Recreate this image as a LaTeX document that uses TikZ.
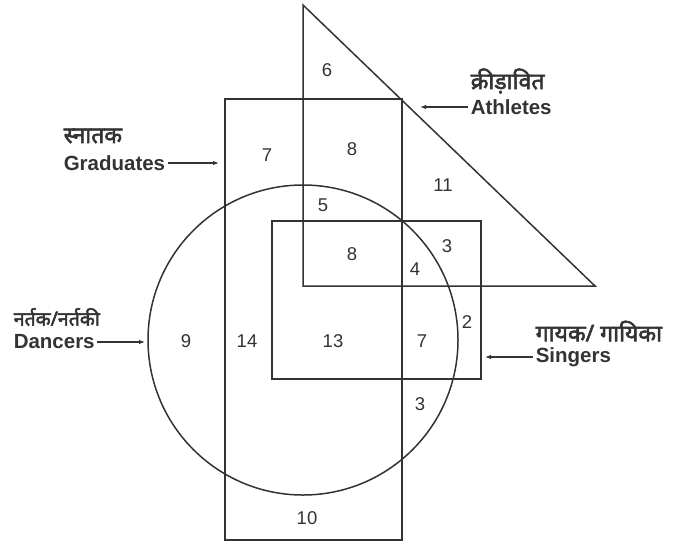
\documentclass[tikz,border=0pt]{standalone}
\usepackage{fontspec}
\setmainfont{Liberation Sans}
\newfontfamily\hindifont[Script=Devanagari, FakeBold=2.5]{Noto Sans}
\usetikzlibrary{arrows.meta,positioning}

\begin{document}
\begin{tikzpicture}[x=1pt, y=-1pt, line width=1.5pt, draw=black!80,
  every node/.style={font=\fontsize{18.5}{20}\selectfont, text=black!80},
  >={Latex[length=6pt,width=4.5pt]},
  setname/.style={font=\fontsize{20.5}{22}\selectfont\bfseries, inner sep=0pt, anchor=west},
  hindiname/.style={font=\fontsize{23}{25}\selectfont\hindifont, inner sep=0pt, anchor=west},
  pointer/.style={->, line width=1.1pt, shorten <=2pt}]
	\useasboundingbox (0,0) rectangle (674,542);
	\draw (225,99) rectangle (402,540);
	\draw (303,5) -- (303,286) -- (595,286) -- cycle;
	\draw (272,221) rectangle (481,379);
	\draw (303,340) circle (155pt);
	\node (athonly) at (327,70) {6};
	\node (gradath) at (352,149) {8};
	\node (gradonly) at (267,155) {7};
	\node (athother) at (443,185) {11};
	\node (gradathdan) at (323,205) {5};
	\node (all) at (352,254) {8};
	\node (athsing) at (447,246) {3};
	\node (athdansing) at (415,269) {4};
	\node (danonly) at (186,341) {9};
	\node (graddan) at (247,341) {14};
	\node (graddansing) at (333,341) {13};
	\node (dansing) at (422,341) {7};
	\node (singonly) at (467,322) {2};
	\node (danother) at (420,404) {3};
	\node (gradother) at (307,518) {10};
	\node[hindiname] (gradhi) at (63,136) {स्नातक};
	\node[setname] (grad) at (63,163) {Graduates};
	\coordinate (gradtip) at (219,163);
	\draw[pointer] (grad) -- (gradtip);
	\node[hindiname] (athhi) at (470,81) {क्रीड़ावित};
	\node[setname] (ath) at (470,107) {Athletes};
	\coordinate (athtip) at (420,107);
	\draw[pointer] (ath) -- (athtip);
	\node[hindiname, font=\fontsize{19.5}{21}\selectfont\hindifont] (danhi) at (13,317) {नर्तक/नर्तकी};
	\node[setname] (dan) at (13,342) {Dancers};
	\coordinate (dantip) at (145,342);
	\draw[pointer] (dan) -- (dantip);
	\node[hindiname] (singhi) at (535,331) {गायक/ गायिका};
	\node[setname] (sing) at (535,357) {Singers};
	\coordinate (singtip) at (485,357);
	\draw[pointer] (sing) -- (singtip);
\end{tikzpicture}
\end{document}
